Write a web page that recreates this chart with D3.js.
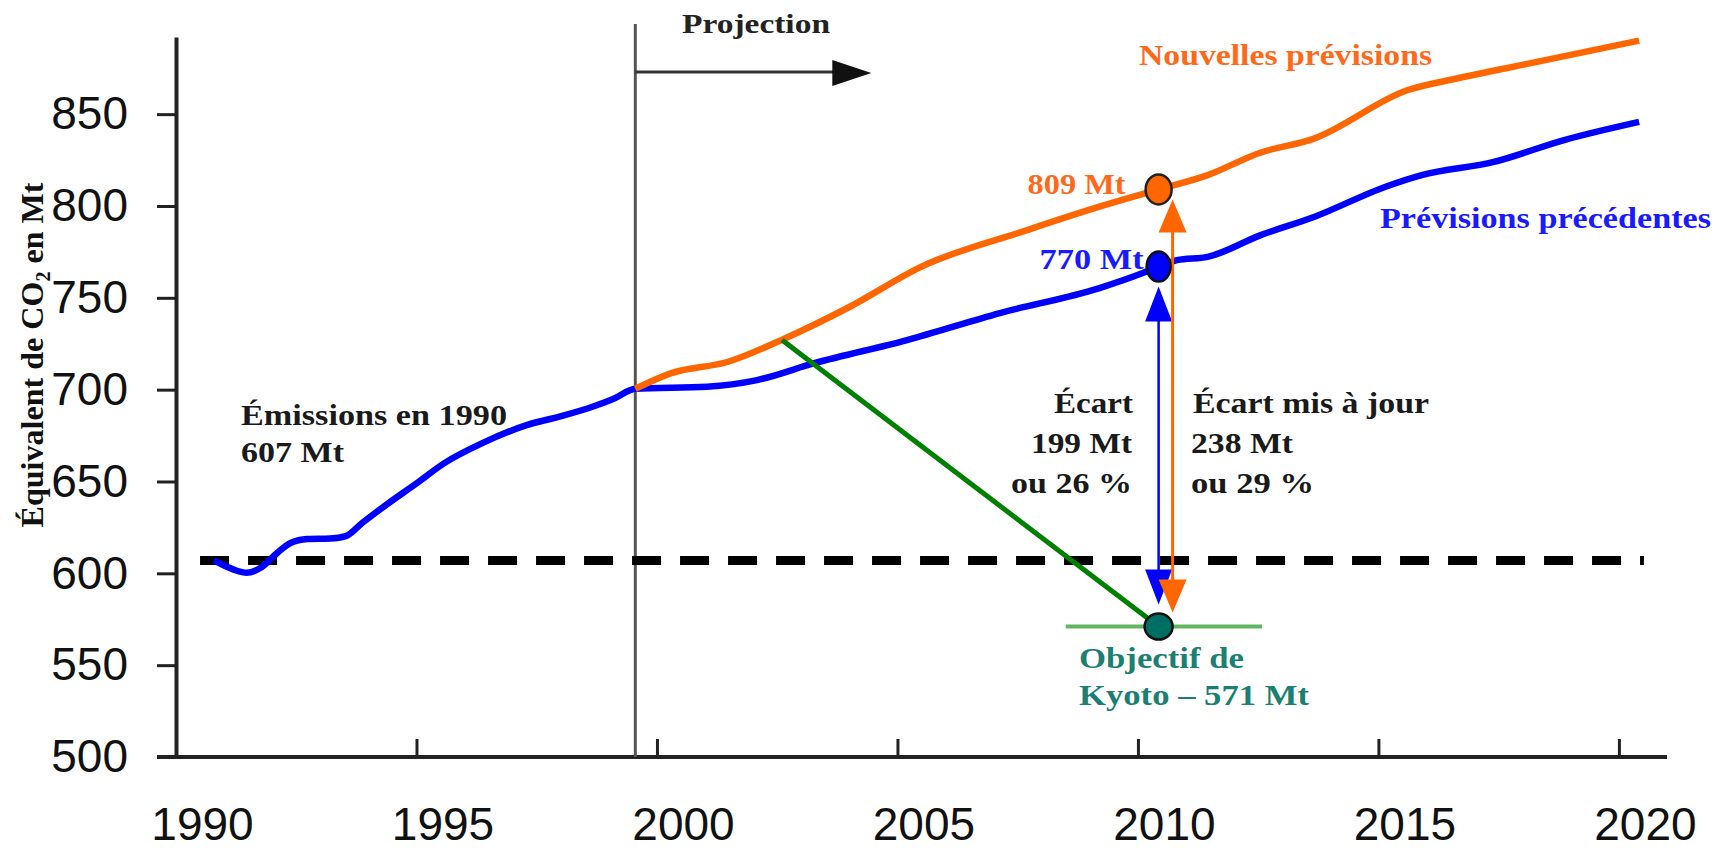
<!DOCTYPE html>
<meta charset="utf-8">
<style>
  body { margin: 0; background: #fff; }
  .axis text { font-family: "Liberation Sans", Arial, sans-serif; font-size: 46px; fill: #111; }
  .axis path, .axis line { stroke: #222; }
  .note { font-family: "Liberation Serif", "Times New Roman", serif; font-weight: bold; }
</style>

<svg width="1720" height="853"></svg>

<script src="https://d3js.org/d3.v7.min.js"></script>
<script>

// emissions 1990-2000 (blue, observed)
var histYears  = [1990.79, 1991.2, 1991.47, 1991.76, 1992.1, 1992.38, 1992.73, 1993.2, 1993.53, 1993.87, 1994.32, 1995.0, 1995.58, 1996.38, 1997.29, 1997.97, 1998.66, 1999.1, 1999.55];
var histValues = [607, 602, 600.3, 603, 611, 616.5, 618.7, 619, 620.3, 627.4, 636.3, 649, 660, 671, 680.7, 685.3, 690.7, 695, 700.5];

// previous forecasts (blue)
var prevYears  = [1999.55, 2001.04, 2002.08, 2003.27, 2005.2, 2007.13, 2009.2, 2010.1, 2010.43, 2010.81, 2011.45, 2012.54, 2013.66, 2015.15, 2015.9, 2017.4, 2018.86, 2020.42];
var prevValues = [700.5, 701.6, 705.2, 714.4, 727, 741.7, 755.3, 763.5, 767, 770.5, 772.3, 784, 794, 810.5, 816.8, 824, 835.9, 845.8];

// new forecasts (orange)
var newYears  = [1999.55, 2000.3, 2001.48, 2002.67, 2004.0, 2005.5, 2007.7, 2009.2, 2010.43, 2011.45, 2012.54, 2013.66, 2015.6, 2016.63, 2018.12, 2020.42];
var newValues = [700.5, 709, 715.2, 728, 745, 767, 786.9, 799.6, 809, 816.8, 829, 836.7, 863, 869.4, 877.5, 890];

var emissions1990 = 607;
var kyotoTarget = 571;
var gapYear = 2010.43;
var prevAtGap = 767;
var newAtGap = 809;
var kyotoStart = [2002.6, 727];        // where the green path leaves the orange line
var kyotoBar = [2008.5, 2012.58];
var baselineSpan = [1990.5, 2020.52];

var yTicks = [500, 550, 600, 650, 700, 750, 800, 850];
var xTicks = [1990, 1995, 2000, 2005, 2010, 2015, 2020];

var svg = d3.select("svg");

var x = d3.scaleLinear().domain([1990, 2021]).range([176, 1667]);
var y = d3.scaleLinear().domain([500, 892]).range([757, 37]);

function zip(a, b) { return a.map(function(d, i) { return [d, b[i]]; }); }

var line = d3.line()
    .x(function(d) { return x(d[0]); })
    .y(function(d) { return y(d[1]); })
    .curve(d3.curveMonotoneX);

// axes
var gy = svg.append("g")
    .attr("class", "axis")
    .attr("transform", "translate(" + x(1990) + ",0)")
    .call(d3.axisLeft(y).tickValues(yTicks).tickSize(19).tickSizeOuter(0).tickPadding(29));
gy.select(".domain").attr("stroke-width", 4);
gy.selectAll(".tick line").attr("stroke-width", 3);

var gx = svg.append("g")
    .attr("class", "axis")
    .attr("transform", "translate(0," + y(500) + ")")
    .call(d3.axisBottom(x).tickValues(xTicks).tickSize(-18).tickSizeOuter(0).tickPadding(50).tickFormat(d3.format("d")));
gx.select(".domain").remove();
gx.selectAll(".tick line").attr("stroke-width", 3);
gx.selectAll(".tick text").attr("dx", 26);
gx.append("line")
    .attr("x1", x(1990) - 19).attr("x2", x.range()[1])
    .attr("stroke", "#222").attr("stroke-width", 4);

// y title
svg.append("text")
    .attr("class", "note")
    .attr("transform", "translate(43,355) rotate(-90)")
    .attr("text-anchor", "middle")
    .attr("font-size", 32)
    .attr("fill", "#111")
    .attr("textLength", 345)
    .attr("lengthAdjust", "spacingAndGlyphs")
    .call(function(t) {
      t.append("tspan").text("Équivalent de CO");
      t.append("tspan").attr("font-size", 20).attr("dy", 7).text("2");
      t.append("tspan").attr("dy", -7).text(" en Mt");
    });

// projection marker
var px = x(newYears[0]);
svg.append("line")
    .attr("x1", px).attr("x2", px)
    .attr("y1", 24).attr("y2", y(500))
    .attr("stroke", "#555").attr("stroke-width", 3);
svg.append("line")
    .attr("x1", px).attr("x2", px + 200)
    .attr("y1", 72).attr("y2", 72)
    .attr("stroke", "#333").attr("stroke-width", 3);
svg.append("path")
    .attr("d", "M" + (px + 197) + ",60L" + (px + 236) + ",73L" + (px + 197) + ",86Z")
    .attr("fill", "#111");

// 1990 level
svg.append("line")
    .attr("x1", x(baselineSpan[0])).attr("x2", x(baselineSpan[1]))
    .attr("y1", y(emissions1990)).attr("y2", y(emissions1990))
    .attr("stroke", "#000").attr("stroke-width", 9)
    .attr("stroke-dasharray", "29,19");

// series
svg.append("path")
    .datum(zip(histYears, histValues).concat(zip(prevYears, prevValues).slice(1)))
    .attr("fill", "none").attr("stroke", "#0000ff").attr("stroke-width", 6.5)
    .attr("stroke-linejoin", "round")
    .attr("d", line);

svg.append("path")
    .datum(zip(newYears, newValues))
    .attr("fill", "none").attr("stroke", "#ff6600").attr("stroke-width", 6.5)
    .attr("stroke-linejoin", "round")
    .attr("d", line);

// path to Kyoto
svg.append("line")
    .attr("x1", x(kyotoStart[0])).attr("y1", y(kyotoStart[1]))
    .attr("x2", x(gapYear)).attr("y2", y(kyotoTarget))
    .attr("stroke", "#008000").attr("stroke-width", 5);
svg.append("line")
    .attr("x1", x(kyotoBar[0])).attr("x2", x(kyotoBar[1]))
    .attr("y1", y(kyotoTarget)).attr("y2", y(kyotoTarget))
    .attr("stroke", "#62b562").attr("stroke-width", 4);

// gap arrows
function arrow(ax, top, bottom, color, w, half, head) {
  svg.append("line")
      .attr("x1", ax).attr("x2", ax)
      .attr("y1", top + head - 2).attr("y2", bottom - head + 2)
      .attr("stroke", color).attr("stroke-width", w);
  svg.append("path")
      .attr("d", "M" + ax + "," + top + "L" + (ax + half) + "," + (top + head) + "L" + (ax - half) + "," + (top + head) + "Z")
      .attr("fill", color);
  svg.append("path")
      .attr("d", "M" + ax + "," + bottom + "L" + (ax + half) + "," + (bottom - head) + "L" + (ax - half) + "," + (bottom - head) + "Z")
      .attr("fill", color);
}
var gx0 = x(gapYear);
arrow(gx0, y(prevAtGap) + 20, y(kyotoTarget) - 22, "#0000ff", 2.5, 13.5, 35);
arrow(gx0 + 14, y(newAtGap) + 10, y(kyotoTarget) - 14, "#ff6600", 3, 14, 33);

// markers
svg.append("ellipse")
    .attr("cx", gx0).attr("cy", y(newAtGap)).attr("rx", 13).attr("ry", 15)
    .attr("fill", "#ff6600").attr("stroke", "#222").attr("stroke-width", 2.5);
svg.append("ellipse")
    .attr("cx", gx0).attr("cy", y(prevAtGap)).attr("rx", 12).attr("ry", 15)
    .attr("fill", "#0000ff").attr("stroke", "#111").attr("stroke-width", 2.5);
svg.append("ellipse")
    .attr("cx", gx0).attr("cy", y(kyotoTarget)).attr("rx", 14).attr("ry", 13)
    .attr("fill", "#006f63").attr("stroke", "#111").attr("stroke-width", 2.5);

// annotations
function note(tx, ty, str, w, size, color) {
  svg.append("text")
      .attr("class", "note")
      .attr("x", tx).attr("y", ty)
      .attr("font-size", size)
      .attr("fill", color)
      .attr("textLength", w)
      .attr("lengthAdjust", "spacingAndGlyphs")
      .text(str);
}

note(682, 33, "Projection", 148, 27, "#222");
note(1139, 65, "Nouvelles prévisions", 293, 29, "#ff6a1a");
note(gx0 - 131, y(newAtGap) + 5, "809 Mt", 98, 29, "#ff6a1a");
note(gx0 - 119, y(prevAtGap) + 2, "770 Mt", 104, 29, "#1a1aff");
note(1380, 228, "Prévisions précédentes", 331, 29, "#1a1aff");

note(241, 425, "Émissions en 1990", 266, 29, "#1a1a1a");
note(241, 462, "607 Mt", 103, 29, "#1a1a1a");

note(1054, 413, "Écart", 79, 29, "#1a1a1a");
note(1031, 453, "199 Mt", 101, 29, "#1a1a1a");
note(1011, 493, "ou 26 %", 121, 29, "#1a1a1a");

note(1193, 413, "Écart mis à jour", 236, 29, "#1a1a1a");
note(1191, 453, "238 Mt", 102, 29, "#1a1a1a");
note(1191, 493, "ou 29 %", 123, 29, "#1a1a1a");

note(1079, 668, "Objectif de", 165, 29, "#1b7f72");
note(1079, 705, "Kyoto – 571 Mt", 230, 29, "#1b7f72");

</script>
